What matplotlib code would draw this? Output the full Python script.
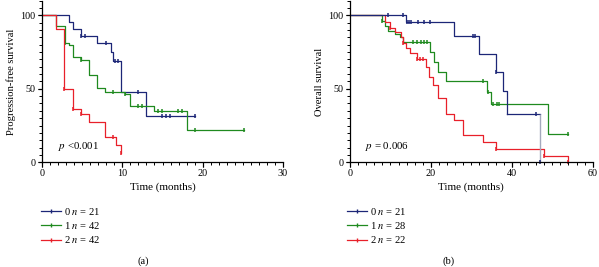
import matplotlib
matplotlib.use("Agg")
import matplotlib.pyplot as plt
from matplotlib.lines import Line2D
import numpy as np

plt.rcParams['font.family'] = ['Liberation Serif', 'DejaVu Serif']
plt.rcParams['mathtext.fontset'] = 'stix'

# ---------------- Data: (a) Progression-free survival ----------------
pfs_t0 = [0, 3.4, 3.9, 4.8, 6.9, 8.6, 8.9, 9.85, 12.9, 19.0]
pfs_s0 = [100, 95.2, 90.5, 85.7, 81.0, 75.0, 69.0, 48.0, 31.5, 31.5]
pfs_c0_t = [4.8, 5.3, 8.0, 9.1, 9.5, 11.9, 14.9, 15.4, 15.9, 19.0]
pfs_c0_s = [85.7, 85.7, 81.0, 69.0, 69.0, 48.0, 31.5, 31.5, 31.5, 31.5]

pfs_t1 = [0, 1.8, 2.9, 3.4, 3.9, 4.8, 5.8, 6.8, 7.8, 10.3, 10.9, 13.9, 18.0, 25.1]
pfs_s1 = [100, 92.7, 81.0, 79.5, 71.8, 69.6, 59.5, 50.7, 48.0, 46.2, 38.5, 34.8, 22.0, 22.0]
pfs_c1_t = [2.9, 4.8, 8.9, 10.3, 11.9, 12.4, 14.4, 14.9, 16.9, 17.4, 19.0, 25.1]
pfs_c1_s = [81.0, 69.6, 48.0, 46.2, 38.5, 38.5, 34.8, 34.8, 34.8, 34.8, 22.0, 22.0]

pfs_t2 = [0, 1.8, 2.8, 3.8, 4.8, 5.9, 7.9, 9.2, 9.85]
pfs_s2 = [100, 90.5, 49.5, 36.0, 32.5, 27.5, 17.5, 11.5, 6.0]
pfs_c2_t = [2.8, 3.8, 4.8, 8.9, 9.85]
pfs_c2_s = [49.5, 36.0, 32.5, 17.5, 6.0]

# ---------------- Data: (b) Overall survival ----------------
os_t0 = [0, 13.8, 25.8, 31.9, 36.0, 37.8, 38.9, 47.0]
os_s0 = [100, 95.4, 86.1, 73.5, 61.6, 48.5, 32.9, 0]
os_c0_t = [9.3, 13.0, 14.2, 14.6, 15.0, 16.9, 18.4, 19.8, 30.3, 30.9, 36.0, 46.0, 47.0]
os_c0_s = [100, 100, 95.4, 95.4, 95.4, 95.4, 95.4, 95.4, 86.1, 86.1, 61.6, 32.9, 0]

os_t1 = [0, 7.8, 8.7, 9.5, 11.1, 12.4, 13.0, 19.9, 20.8, 21.8, 23.7, 33.8, 34.8, 48.9, 54.0]
os_s1 = [100, 96.4, 92.9, 89.3, 87.5, 85.0, 81.8, 75.2, 68.4, 61.6, 55.3, 47.6, 39.5, 19.0, 19.0]
os_c1_t = [7.8, 15.5, 16.5, 17.5, 18.3, 19.0, 32.8, 34.0, 35.4, 36.3, 36.9, 54.0]
os_c1_s = [96.4, 81.8, 81.8, 81.8, 81.8, 81.8, 55.3, 47.6, 39.5, 39.5, 39.5, 19.0]

os_t2 = [0, 8.7, 10.0, 11.2, 12.5, 13.2, 13.9, 14.8, 16.5, 18.7, 19.6, 20.6, 21.8, 23.8, 25.8, 27.9, 33.0, 36.0, 48.0, 54.0]
os_s2 = [100, 95.5, 91.0, 88.5, 85.0, 81.0, 77.5, 74.0, 70.0, 65.0, 58.0, 52.5, 44.0, 33.0, 28.5, 18.5, 13.5, 9.0, 4.5, 0]
os_c2_t = [10.0, 13.2, 16.5, 17.4, 18.0, 36.0, 48.0, 54.0]
os_c2_s = [91.0, 81.0, 70.0, 70.0, 70.0, 9.0, 4.5, 0]

legend_a = ["0 $n$ = 21", "1 $n$ = 42", "2 $n$ = 42"]
legend_b = ["0 $n$ = 21", "1 $n$ = 28", "2 $n$ = 22"]
colors = ["#1c2677", "#1f8a1f", "#e8202a"]
last_drop_color = "#a4a9bd"

W, H = 599, 267
fig = plt.figure(figsize=(W / 100, H / 100), dpi=100)

def px_axes(x0, x1, ytop, ybot):
    ax = fig.add_axes([x0 / W, 1 - ybot / H, (x1 - x0) / W, (ybot - ytop) / H])
    ax._wpx, ax._hpx = (x1 - x0), (ybot - ytop)
    return ax

axA = px_axes(42, 283, 0.5, 162.3)
axB = px_axes(350, 592.7, 0.5, 162.3)

MAJ_PX, MIN_PX = 4.5, 3.0

def style(ax, xmax, xmajor, xminor, ylabel):
    ax.set_xlim(0, xmax)
    ax.set_ylim(0, 110)
    for s in ['top', 'right']:
        ax.spines[s].set_visible(False)
    for s in ['left', 'bottom']:
        ax.spines[s].set_linewidth(0.9)
        ax.spines[s].set_color('black')
    xmaj = list(range(0, xmax + 1, xmajor))
    xmin = list(np.arange(0, xmax + 0.01, xminor))
    ymaj = [0, 50, 100]
    ymin = list(range(0, 111, 5))
    ax.set_xticks(xmaj)
    ax.set_yticks(ymaj)
    ax.tick_params(which='major', direction='out', length=MAJ_PX * 0.72, width=0.8,
                   labelsize=7.3, pad=1.5, color='black')
    # explicit tick combs (outward) on both axes
    xt = ax.get_xaxis_transform()
    yt = ax.get_yaxis_transform()
    ax.vlines(xmin, -MIN_PX / ax._hpx, 0, transform=xt, color='black', lw=0.7, clip_on=False)
    ax.vlines(xmaj, -MAJ_PX / ax._hpx, 0, transform=xt, color='black', lw=0.8, clip_on=False)
    ax.hlines(ymin, -MIN_PX / ax._wpx, 0, transform=yt, color='black', lw=0.7, clip_on=False)
    ax.hlines(ymaj, -MAJ_PX / ax._wpx, 0, transform=yt, color='black', lw=0.8, clip_on=False)
    ax.set_xlabel("Time (months)", fontsize=8, labelpad=3)
    ax.set_ylabel(ylabel, fontsize=7.6, labelpad=3)

def draw(ax, t, s, ct, cs, c):
    ax.step(t, s, where='post', color=c, lw=0.9, clip_on=False)
    ax.plot(ct, cs, linestyle='none', marker='|', markersize=3.2, mew=1.1,
            color=c, clip_on=False)

draw(axA, pfs_t0, pfs_s0, pfs_c0_t, pfs_c0_s, colors[0])
draw(axA, pfs_t1, pfs_s1, pfs_c1_t, pfs_c1_s, colors[1])
draw(axA, pfs_t2, pfs_s2, pfs_c2_t, pfs_c2_s, colors[2])
draw(axB, os_t1, os_s1, os_c1_t, os_c1_s, colors[1])
draw(axB, os_t2, os_s2, os_c2_t, os_c2_s, colors[2])
# blue OS: last vertical drop drawn in a lighter grey-blue as in the reference
axB.step(os_t0[:-1], os_s0[:-1], where='post', color=colors[0], lw=0.9)
axB.plot([os_t0[-2], os_t0[-1]], [os_s0[-2], os_s0[-2]], color=colors[0], lw=0.9)
axB.vlines(os_t0[-1], os_s0[-1], os_s0[-2], color=last_drop_color, lw=1.0)
axB.plot(os_c0_t, os_c0_s, linestyle='none', marker='|', markersize=3.2, mew=1.1,
         color=colors[0], clip_on=False)

style(axA, 30, 10, 1, "Progression-free survival")
style(axB, 60, 20, 2, "Overall survival")

axA.text(2.0, 10.5, "$p$ <0.001", fontsize=7.8, va='center')
axB.text(3.7, 10.5, "$p$ = 0.006", fontsize=7.8, va='center')

def add_legend(ax, labels, xpx):
    handles = [Line2D([0], [0], color=c, lw=0.9, marker='|', markersize=3, mew=1.0)
               for c in colors]
    ax.legend(handles, labels, loc='upper left',
              bbox_to_anchor=(xpx / W, 1 - 206 / H), bbox_transform=fig.transFigure,
              frameon=False, fontsize=7.6, handlelength=1.9, handletextpad=0.3,
              labelspacing=0.3, borderpad=0, borderaxespad=0)

add_legend(axA, legend_a, 41)
add_legend(axB, legend_b, 347)

fig.text(143 / W, 1 - 261 / H, "(a)", fontsize=7.6, ha='center', va='center')
fig.text(449 / W, 1 - 261 / H, "(b)", fontsize=7.6, ha='center', va='center')

fig.savefig("out.png", dpi=100)
